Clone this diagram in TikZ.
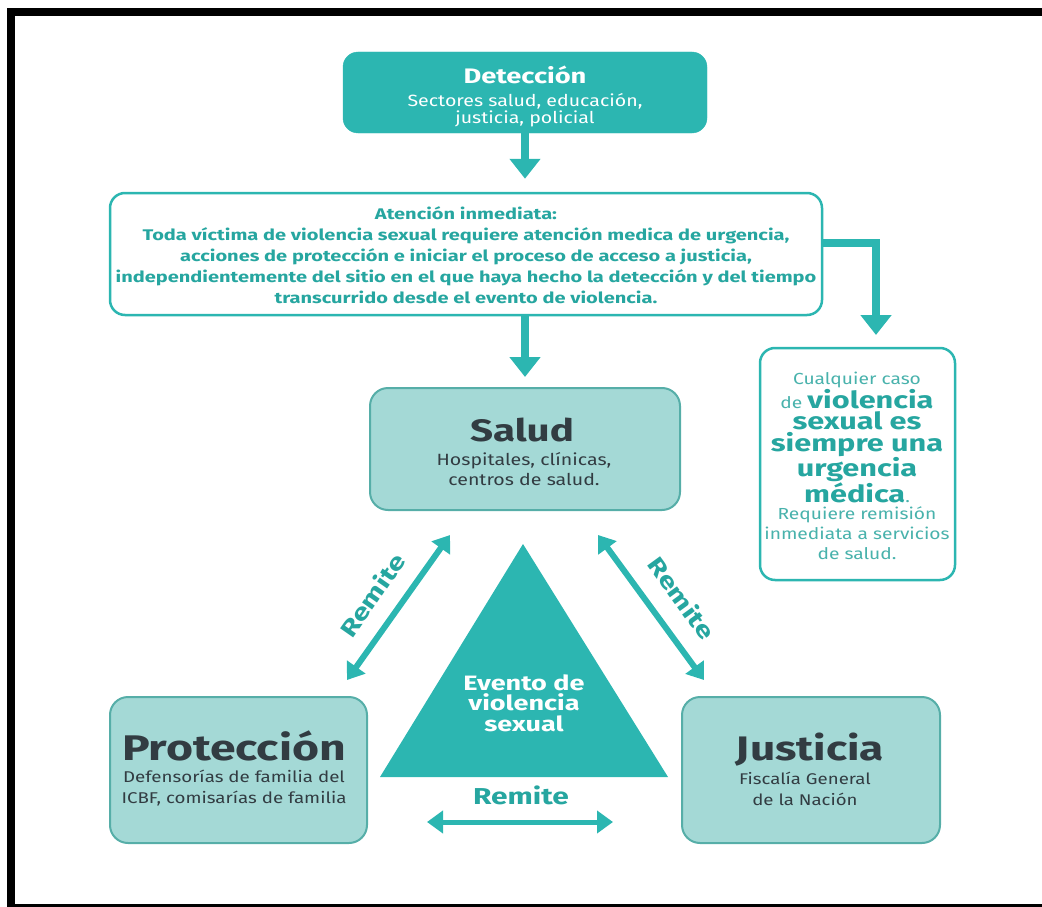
\documentclass[tikz,border=0pt]{standalone}
\usepackage{fontspec}
\setmainfont{Fira Sans}[FakeStretch=1.2]
\newfontfamily\wb{Fira Sans}[FakeStretch=1.3]
\usetikzlibrary{arrows.meta}
\definecolor{teal1}{RGB}{44,182,177}
\definecolor{lightbox}{RGB}{164,217,214}
\definecolor{lightborder}{RGB}{86,174,168}
\definecolor{darktxt}{RGB}{50,60,66}
\definecolor{tealtxt}{RGB}{38,166,160}
\definecolor{tealsoft}{RGB}{72,178,172}
\tikzset{
  darkbox/.style={fill=teal1,draw=teal1,rounded corners=15pt,inner sep=0pt},
  whitebox/.style={fill=white,draw=teal1,line width=2.5pt,rounded corners=15pt,inner sep=0pt},
  lightnode/.style={fill=lightbox,draw=lightborder,line width=2pt,rounded corners=18pt,inner sep=0pt},
  txt/.style={inner sep=0pt,align=center},
  bigarrow/.style={draw=teal1,line width=8pt,-{Triangle[width=30pt,length=20pt]}},
  dblarrow/.style={draw=teal1,line width=6pt,{Triangle[width=22pt,length=16pt]}-{Triangle[width=22pt,length=16pt]}},
  remite/.style={inner sep=0pt,text=tealtxt,font=\wb\bfseries\fontsize{23}{23}\selectfont}
}
\begin{document}
\begin{tikzpicture}[x=1pt,y=-1pt]
\useasboundingbox (0,0) rectangle (1042,907);
% frame
\fill[black] (7,8) rectangle (1042,16);
\fill[black] (7,8) rectangle (15,907);
\fill[black] (7,904) rectangle (1042,907);

% Deteccion
\node[darkbox,minimum width=364pt,minimum height=81pt] (det) at (525,92.5) {};
\node[txt,text=white,font=\wb\bfseries\fontsize{21}{21}\selectfont] (detT) at (525,75) {Detección};
\node[txt,text=white,font=\fontsize{16.3}{17.5}\selectfont] (detS) at (525,110) {Sectores salud, educación,\\justicia, policial};

% Atencion
\node[whitebox,minimum width=712pt,minimum height=122pt] (aten) at (466,254) {};
\node[txt,text=tealtxt,font=\wb\bfseries\fontsize{15.4}{21}\selectfont] (atenT) at (466,255) {Atención inmediata:\\Toda víctima de violencia sexual requiere atención medica de urgencia,\\acciones de protección e iniciar el proceso de acceso a justicia,\\independientemente del sitio en el que haya hecho la detección y del tiempo\\transcurrido desde el evento de violencia.};

% right box
\node[whitebox,minimum width=195pt,minimum height=232pt] (rbox) at (857.5,464) {};
\node[txt,text=tealsoft,font=\fontsize{16}{16}\selectfont] (rbox1) at (857,380) {Cualquier caso};
\node[txt,text=tealtxt,font=\wb\bfseries\fontsize{23.6}{21.7}\selectfont] (rbox2) at (857,446) {{\fontsize{16}{16}\selectfont\rmfamily\mdseries\color{tealsoft}de }violencia\\sexual es\\siempre una\\urgencia\\médica{\fontsize{16}{16}\selectfont\rmfamily\mdseries\color{tealsoft}.}};
\node[txt,text=tealsoft,font=\fontsize{16}{20}\selectfont] (rbox3) at (857,533) {Requiere remisión\\inmediata a servicios\\de salud.};

% Salud
\node[lightnode,minimum width=310pt,minimum height=122pt] (salud) at (525,449) {};
\node[txt,text=darktxt,font=\wb\bfseries\fontsize{31}{31}\selectfont] (saludT) at (522,430) {Salud};
\node[txt,text=darktxt,font=\fontsize{16.3}{19.5}\selectfont] (saludS) at (524,469) {Hospitales, clínicas,\\centros de salud.};

% Proteccion
\node[lightnode,minimum width=257pt,minimum height=146pt] (prot) at (238.5,770) {};
\node[txt,text=darktxt,font=\wb\bfseries\fontsize{35.6}{35.6}\selectfont] (protT) at (234,746) {Protección};
\node[txt,text=darktxt,font=\fontsize{15.6}{21}\selectfont] (protS) at (234,788) {Defensorías de familia del\\ICBF, comisarías de familia};

% Justicia
\node[lightnode,minimum width=258pt,minimum height=146pt] (just) at (811,770) {};
\node[txt,text=darktxt,font=\wb\bfseries\fontsize{34}{34}\selectfont] (justT) at (810,750) {Justicia};
\node[txt,text=darktxt,font=\fontsize{15.5}{21}\selectfont] (justS) at (805,789) {Fiscalía General\\de la Nación};

% triangle
\coordinate (ta) at (523,544);
\coordinate (tl) at (380,777);
\coordinate (tr) at (668,777);
\fill[teal1] (ta) -- (tl) -- (tr) -- cycle;
\node[txt,text=white,font=\wb\bfseries\fontsize{20.8}{20.5}\selectfont] (evento) at (524,703) {Evento de\\violencia\\sexual};

% vertical arrows
\draw[bigarrow,shorten >=13pt] (det.south) -- (det.south |- aten.north);
\draw[bigarrow,shorten >=10pt] (aten.south -| salud.north) -- (salud.north);
\coordinate (corner) at (876,243);
\coordinate (rtip) at (876,335);
\draw[bigarrow,line join=miter] (aten.east |- corner) -- (corner) -- (rtip);

% diagonal arrows
\coordinate (l1) at (450,535);
\coordinate (l2) at (347,680);
\coordinate (r1) at (598,535);
\coordinate (r2) at (704,680);
\coordinate (b1) at (427,822);
\coordinate (b2) at (613,822);
\draw[dblarrow] (l1) -- (l2);
\draw[dblarrow] (r1) -- (r2);
\draw[dblarrow,line width=5pt] (b1) -- (b2);
\node[remite,rotate=55] (remL) at (372,595) {Remite};
\node[remite,rotate=-54] (remR) at (682,598) {Remite};
\node[remite] (remB) at (521,795) {Remite};
\end{tikzpicture}
\end{document}
